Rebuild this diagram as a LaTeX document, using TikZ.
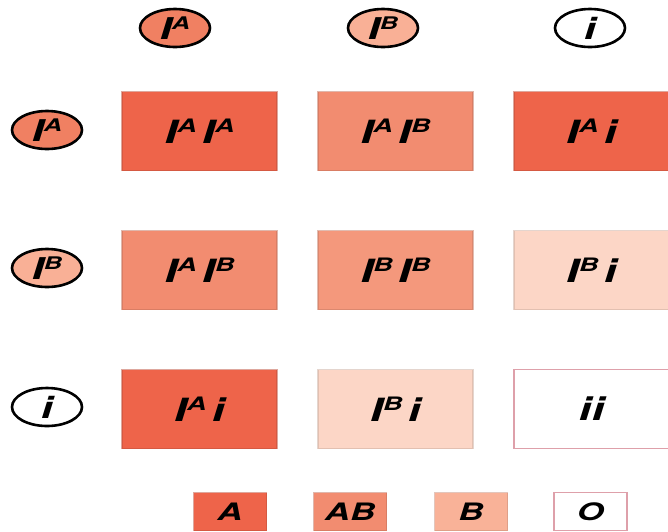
\documentclass[tikz,border=0pt]{standalone}
\usepackage{fontspec}
\usepackage{graphicx}
\newfontfamily\genefont[FakeStretch=1.45]{TeX Gyre Heros}
\usetikzlibrary{shapes.geometric}

\definecolor{typeA}{RGB}{238,100,74}
\definecolor{typeAB}{RGB}{242,140,112}
\definecolor{typeBB}{RGB}{244,152,124}
\definecolor{typeB}{RGB}{249,178,152}
\definecolor{typeBi}{RGB}{252,214,198}
\definecolor{alleleA}{RGB}{240,128,98}
\definecolor{alleleB}{RGB}{249,176,150}
\definecolor{rimO}{RGB}{222,160,170}

\newcommand{\gene}[1]{I\raisebox{0.33em}{\scalebox{0.58}{#1}}}

\begin{document}
\begin{tikzpicture}[x=1pt,y=-1pt,
  parent/.style={ellipse, draw=black, line width=2.6pt, minimum width=70pt, minimum height=38pt,
    inner sep=0pt, font=\fontsize{30}{30}\selectfont\genefont\bfseries\itshape},
  cell/.style={rectangle, minimum width=155pt, minimum height=79pt, inner sep=0pt,
    fill=#1, draw=#1!80!black, draw opacity=0.5, line width=1.8pt,
    font=\fontsize{32}{32}\selectfont\genefont\bfseries\itshape},
  key/.style={rectangle, minimum width=73pt, minimum height=38pt, inner sep=0pt,
    fill=#1, draw=#1!80!black, draw opacity=0.5, line width=1.8pt,
    font=\fontsize{24}{24}\selectfont\genefont\bfseries\itshape}]
\useasboundingbox (0,0) rectangle (668,531);

% gametes
\node[parent, fill=alleleA] (tA) at (175,28) {\gene{A}};
\node[parent, fill=alleleB] (tB) at (383,28) {\gene{B}};
\node[parent, fill=white] (ti) at (590,28) {i};
\node[parent, fill=alleleA] (lA) at (47,130) {\gene{A}};
\node[parent, fill=alleleB] (lB) at (47,268) {\gene{B}};
\node[parent, fill=white] (li) at (47,407) {i};

% offspring
\node[cell=typeA] (b11) at (199.5,131) {\gene{A}\,\gene{A}};
\node[cell=typeAB] (b12) at (395.5,131) {\gene{A}\,\gene{B}};
\node[cell=typeA] (b13) at (591.5,131) {\gene{A}\,i};
\node[cell=typeAB] (b21) at (199.5,270) {\gene{A}\,\gene{B}};
\node[cell=typeBB] (b22) at (395.5,270) {\gene{B}\,\gene{B}};
\node[cell=typeBi] (b23) at (591.5,270) {\gene{B}\,i};
\node[cell=typeA] (b31) at (199.5,409) {\gene{A}\,i};
\node[cell=typeBi] (b32) at (395.5,409) {\gene{B}\,i};
\node[cell=white, draw=rimO, draw opacity=1] (b33) at (591.5,409) {ii};

% blood types
\node[key=typeA] (kA) at (230,511.5) {A};
\node[key=typeAB] (kAB) at (350,511.5) {AB};
\node[key=typeB] (kB) at (471,511.5) {B};
\node[key=white, draw=rimO, draw opacity=1] (kO) at (590.5,511.5) {O};
\end{tikzpicture}
\end{document}
